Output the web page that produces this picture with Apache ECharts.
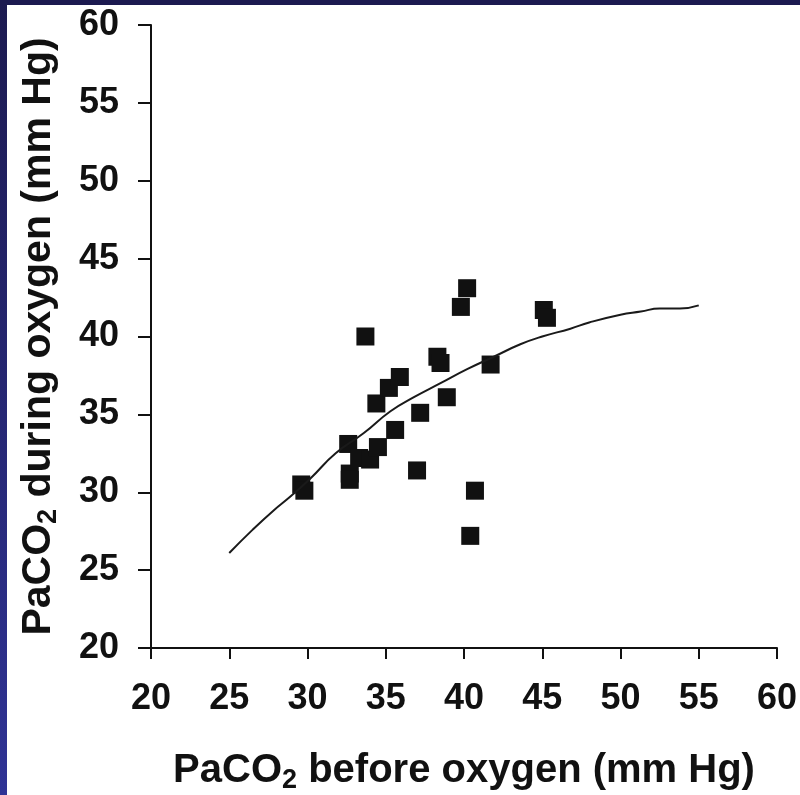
<!DOCTYPE html>
<html>
<head>
<meta charset="utf-8">
<script src="https://cdn.jsdelivr.net/npm/echarts@6/dist/echarts.min.js"></script>
<style>
  html, body { margin: 0; padding: 0; background: #fff; }
  #marco { position: absolute; left: 0; top: 0; width: 800px; height: 795px; }
  #borde-izq { position: absolute; left: 0; top: 0; width: 7px; height: 795px;
    background: linear-gradient(#1c1a50, #2f3395); }
  #borde-sup { position: absolute; left: 0; top: 0; width: 800px; height: 5px; background: #1c1a50; }
  #grafico { position: absolute; left: 7px; top: 5px; width: 793px; height: 790px; }
</style>
</head>
<body>
<div id="marco">
  <div id="grafico"></div>
  <div id="borde-izq"></div>
  <div id="borde-sup"></div>
</div>
<script>
// PaCO2 antes y durante oxigeno (mm Hg)
const pacoAntes = [29.6, 29.8, 32.6, 32.7, 32.7, 33.3, 33.7, 34.0, 34.4, 34.5,
  35.2, 35.6, 35.9, 37.0, 37.2, 38.3, 38.5, 38.9, 39.8, 40.2,
  40.4, 40.7, 41.7, 45.1, 45.3];
const pacoDurante = [30.5, 30.1, 33.1, 31.2, 30.8, 32.2, 40.0, 32.1, 35.7, 32.9,
  36.7, 34.0, 37.4, 31.4, 35.1, 38.7, 38.3, 36.1, 41.9, 43.1,
  27.2, 30.1, 38.2, 41.7, 41.2];

// curva ajustada
const curvaX = [25.0, 26.5, 27.8, 29.0, 30.2, 31.8, 33.6, 35.3, 36.8, 38.5,
  40.2, 41.9, 43.6, 45.0, 46.8, 48.0, 50.0, 51.3, 52.5, 53.8, 55.0];
const curvaY = [26.1, 27.6, 28.8, 29.8, 30.9, 32.5, 33.8, 35.2, 36.1, 37.0,
  37.9, 38.7, 39.5, 40.0, 40.5, 40.9, 41.4, 41.6, 41.8, 41.8, 42.0];

const ejeMin = 20;
const ejeMax = 60;
const ejePaso = 5;

document.addEventListener('DOMContentLoaded', function () {
  const chart = echarts.init(document.getElementById('grafico'));

  const puntos = pacoAntes.map(function (x, i) { return [x, pacoDurante[i]]; });
  const curva = curvaX.map(function (x, i) { return [x, curvaY[i]]; });

  const fuente = 'Liberation Sans, Arial, sans-serif';
  function richNombre(tam) {
    return {
      a: { fontSize: tam, fontWeight: 'bold', fontFamily: fuente, color: '#111', lineHeight: 46, verticalAlign: 'middle' },
      s: { fontSize: 27, fontWeight: 'bold', fontFamily: fuente, color: '#111', lineHeight: 27, verticalAlign: 'bottom' }
    };
  }

  function ejeBase() {
    return {
      type: 'value',
      min: ejeMin,
      max: ejeMax,
      interval: ejePaso,
      splitLine: { show: false },
      axisLine: { show: true, onZero: false, lineStyle: { color: '#111', width: 2 } },
      axisTick: { show: true, inside: false, lineStyle: { color: '#111', width: 2 } },
      axisLabel: { fontSize: 36, fontWeight: 'bold', fontFamily: fuente, color: '#111' },
      nameLocation: 'middle'
    };
  }

  const ejeX = ejeBase();
  ejeX.name = '{a|PaCO}{s|2}{a| before oxygen (mm Hg)}';
  ejeX.nameTextStyle = { rich: richNombre(40) };
  ejeX.nameGap = 100;
  ejeX.axisTick.length = 11;
  ejeX.axisLabel.margin = 33;

  const ejeY = ejeBase();
  ejeY.name = '{a|PaCO}{s|2}{a| during oxygen (mm Hg)}';
  ejeY.nameTextStyle = { rich: richNombre(41) };
  ejeY.nameGap = 89;
  ejeY.nameRotate = 90;
  ejeY.axisTick.length = 13;
  ejeY.axisLabel.margin = 32;

  chart.setOption({
    animation: false,
    grid: { left: 144, right: 23, top: 20, bottom: 147, outerBoundsMode: 'none', containLabel: false },
    xAxis: ejeX,
    yAxis: ejeY,
    series: [
      {
        name: 'Pacientes',
        type: 'scatter',
        symbol: 'rect',
        symbolSize: 18,
        itemStyle: { color: '#111', opacity: 1 },
        data: puntos
      },
      {
        name: 'Ajuste',
        type: 'line',
        showSymbol: false,
        smooth: true,
        lineStyle: { color: '#1a1a1a', width: 2 },
        data: curva,
        z: 3
      }
    ]
  });
});
</script>
</body>
</html>
